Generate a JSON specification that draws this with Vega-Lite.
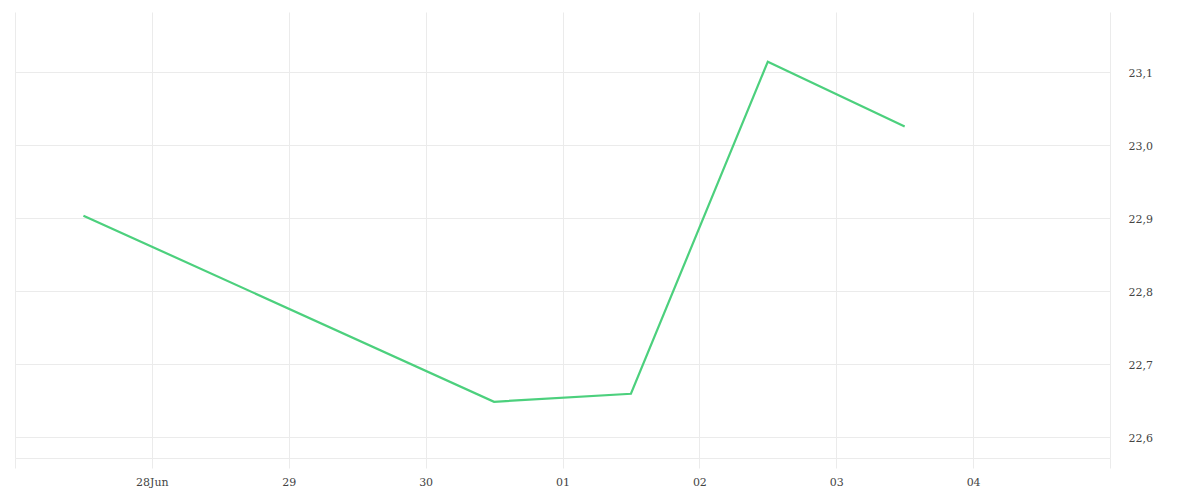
{
  "$schema": "https://vega.github.io/schema/vega-lite/v6.json",
  "width": 1095,
  "height": 446,
  "autosize": {"type": "none"},
  "padding": {"left": 15, "top": 12, "right": 90, "bottom": 42},
  "background": "white",
  "config": {"view": {"stroke": null}},
  "data": {
    "values": [
      {"time": "2023-06-27T12:00:00", "value": 22.903},
      {"time": "2023-06-30T12:00:00", "value": 22.648},
      {"time": "2023-07-01T12:00:00", "value": 22.659},
      {"time": "2023-07-02T12:00:00", "value": 23.114},
      {"time": "2023-07-03T12:00:00", "value": 23.025}
    ]
  },
  "mark": {"type": "line", "color": "#4cd07d", "strokeWidth": 2.2},
  "encoding": {
    "x": {
      "field": "time",
      "type": "temporal",
      "scale": {
        "domain": [
          {"year": 2023, "month": 6, "date": 27},
          {"year": 2023, "month": 7, "date": 5}
        ],
        "nice": false
      },
      "axis": {
        "title": null,
        "values": [
          {"year": 2023, "month": 6, "date": 27},
          {"year": 2023, "month": 6, "date": 28},
          {"year": 2023, "month": 6, "date": 29},
          {"year": 2023, "month": 6, "date": 30},
          {"year": 2023, "month": 7, "date": 1},
          {"year": 2023, "month": 7, "date": 2},
          {"year": 2023, "month": 7, "date": 3},
          {"year": 2023, "month": 7, "date": 4},
          {"year": 2023, "month": 7, "date": 5}
        ],
        "labelExpr": "date(datum.value) == 27 || date(datum.value) == 5 ? '' : (date(datum.value) == 28 ? '28Jun' : timeFormat(datum.value, '%d'))",
        "grid": true,
        "gridColor": "#ebebeb",
        "gridWidth": 1,
        "ticks": true,
        "tickSize": 10,
        "tickColor": "#ebebeb",
        "domain": true,
        "domainColor": "#ebebeb",
        "labelFont": "DejaVu Serif",
        "labelFontSize": 11,
        "labelColor": "#444444",
        "labelPadding": 8,
        "labelFlush": false,
        "labelOverlap": false
      }
    },
    "y": {
      "field": "value",
      "type": "quantitative",
      "scale": {"domain": [22.571, 23.182], "nice": false, "zero": false},
      "axis": {
        "title": null,
        "orient": "right",
        "values": [22.6, 22.7, 22.8, 22.9, 23.0, 23.1],
        "labelExpr": "replace(format(datum.value, '.1f'), '.', ',')",
        "grid": true,
        "gridColor": "#ebebeb",
        "ticks": false,
        "domain": false,
        "labelFont": "DejaVu Serif",
        "labelFontSize": 11,
        "labelColor": "#444444",
        "labelPadding": 18,
        "labelAlign": "left",
        "labelOffset": 2
      }
    }
  }
}
